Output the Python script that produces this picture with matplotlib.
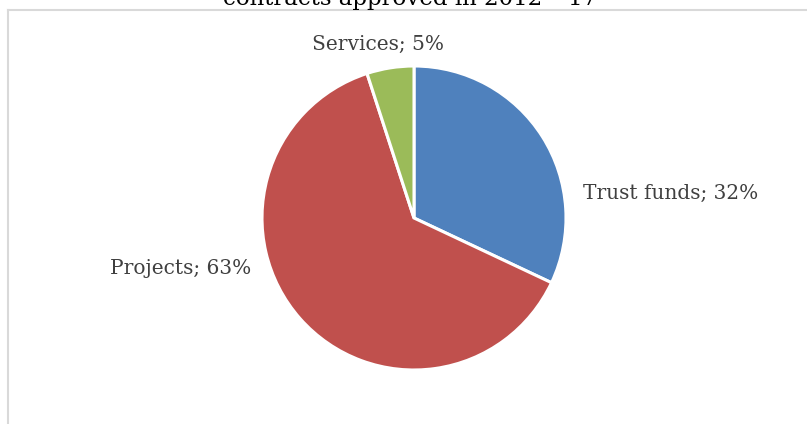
import matplotlib.pyplot as plt
from matplotlib.lines import Line2D

# data
labels = ["Trust funds", "Projects", "Services"]
shares = [32, 63, 5]
colors = ["#4F81BD", "#C0504D", "#9BBB59"]

TITLE = "contracts approved in 2012 – 17"
TEXT_COLOR = "#404040"
FONT = "DejaVu Serif"

W, H = 807, 424
fig = plt.figure(figsize=(W / 100, H / 100), dpi=100)
fig.patch.set_facecolor("white")

# chart-area border (only left and top edges are visible in the crop)
fig.add_artist(Line2D([8 / W, 8 / W], [0, 1 - 9.5 / H], transform=fig.transFigure,
                      color="#D9D9D9", lw=1.5))
fig.add_artist(Line2D([8 / W, 1], [1 - 9.5 / H, 1 - 9.5 / H], transform=fig.transFigure,
                      color="#D9D9D9", lw=1.5))

# title, clipped by the top of the picture
fig.text(410 / W, 1 - 5.5 / H, TITLE, ha="center", va="baseline",
         fontsize=16.5, family=FONT, color="black")

# pie axes: centre (414, 218), radius 152 px
cx, cy, r = 414, 218, 152
ax = fig.add_axes([(cx - r) / W, (H - cy - r) / H, 2 * r / W, 2 * r / H])
ax.pie(shares, colors=colors, startangle=90, counterclock=False,
       wedgeprops=dict(edgecolor="white", linewidth=2.2), radius=1)
ax.set_xlim(-1, 1)
ax.set_ylim(-1, 1)
ax.axis("off")

# data labels
pos = {
    "Trust funds": (1.11, 0.16, "left"),
    "Projects": (-1.07, -0.33, "right"),
    "Services": (-0.24, 1.14, "center"),
}
for lab, val in zip(labels, shares):
    x, y, ha = pos[lab]
    ax.text(x, y, f"{lab}; {val}%", ha=ha, va="center", fontsize=14.5,
            family=FONT, color=TEXT_COLOR, clip_on=False)

fig.savefig("out.png", dpi=100)
